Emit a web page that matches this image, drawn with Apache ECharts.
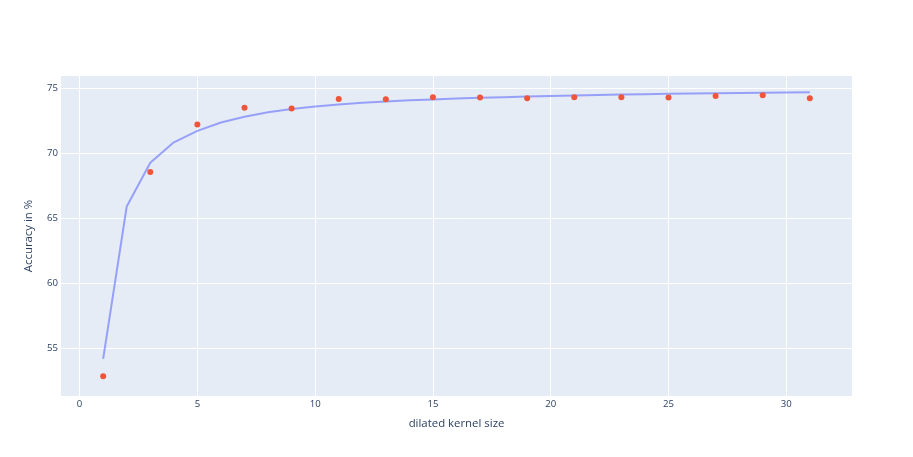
<!DOCTYPE html>
<html>
<head>
<meta charset="utf-8">
<script src="https://cdn.jsdelivr.net/npm/echarts@6/dist/echarts.min.js"></script>
<style>
html,body{margin:0;padding:0;background:#fff;}
#chart{width:913px;height:457px;}
</style>
</head>
<body>
<div id="chart"></div>
<script>
// Measured accuracy (markers) at odd kernel sizes
const markerX = [1,3,5,7,9,11,13,15,17,19,21,23,25,27,29,31];
const markerY = [52.8,68.56,72.23,73.52,73.47,74.19,74.18,74.33,74.31,74.25,74.33,74.33,74.31,74.43,74.48,74.25];
// Fitted curve (line) at every kernel size
const lineX = [1,2,3,4,5,6,7,8,9,10,11,12,13,14,15,16,17,18,19,20,21,22,23,24,25,26,27,28,29,30,31];
const lineY = [54.15,65.9,69.28,70.85,71.74,72.38,72.82,73.17,73.42,73.62,73.77,73.9,74.0,74.09,74.16,74.23,74.29,74.34,74.39,74.43,74.47,74.51,74.54,74.57,74.6,74.62,74.64,74.66,74.68,74.7,74.72];
// Tick labels
const xTicks = [0,5,10,15,20,25,30];
const yTicks = [55,60,65,70,75];

const font = '"Open Sans", verdana, arial, sans-serif';
const txt = '#2a3f5f';

const chart = echarts.init(document.getElementById('chart'), null, {renderer:'canvas'});
chart.setOption({
  animation:false,
  backgroundColor:'#fff',
  grid:{left:61,right:61,top:76,bottom:61,show:true,backgroundColor:'#E5ECF6',borderWidth:0},
  xAxis:{
    type:'value', min:-0.79, max:32.79,
    name:'dilated kernel size', nameLocation:'middle', nameGap:22,
    nameTextStyle:{color:txt,fontFamily:font,fontSize:11.4},
    axisLine:{show:false},
    axisTick:{show:false, customValues:xTicks},
    axisLabel:{color:txt,fontFamily:font,fontSize:9.6,margin:3,customValues:xTicks},
    splitLine:{show:true,lineStyle:{color:'#ffffff',width:1}}
  },
  yAxis:{
    type:'value', min:51.28, max:75.97,
    name:'Accuracy in %', nameLocation:'middle', nameGap:27,
    nameTextStyle:{color:txt,fontFamily:font,fontSize:11.4},
    axisLine:{show:false},
    axisTick:{show:false, customValues:yTicks},
    axisLabel:{color:txt,fontFamily:font,fontSize:9.6,margin:3,customValues:yTicks},
    splitLine:{show:true,lineStyle:{color:'#ffffff',width:1}}
  },
  series:[
    {
      type:'line',
      data:lineX.map((x,i)=>[x,lineY[i]]),
      showSymbol:false, symbol:'none',
      lineStyle:{color:'rgba(99,110,250,0.6)',width:2},
      itemStyle:{color:'rgba(99,110,250,0.6)'},
      z:2
    },
    {
      type:'scatter',
      data:markerX.map((x,i)=>[x,markerY[i]]),
      symbol:'circle', symbolSize:6,
      itemStyle:{color:'#EF553B',opacity:1},
      z:3
    }
  ]
});
</script>
</body>
</html>
